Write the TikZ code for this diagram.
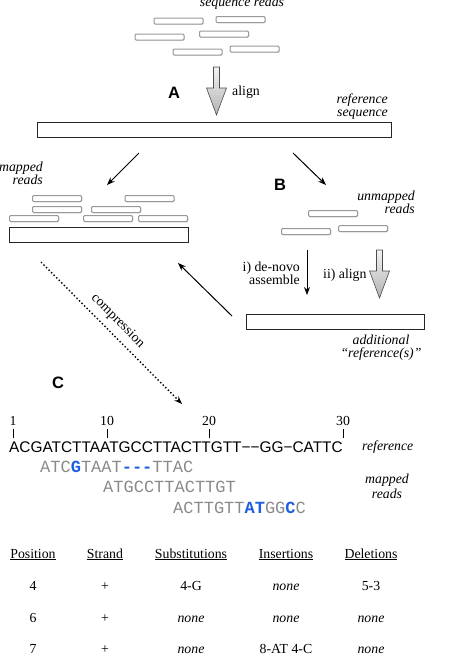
\documentclass[tikz,border=0pt]{standalone}
\usepackage{fontspec}
\setmainfont{Liberation Serif}
\setsansfont{Liberation Sans}
\setmonofont{Liberation Mono}
\usetikzlibrary{arrows.meta,shadows}

\definecolor{readgray}{RGB}{138,138,138}
\definecolor{snpblue}{RGB}{30,95,225}

\tikzset{
    readbox/.style={draw=gray!80, fill=white, rounded corners=1.2pt, line width=1pt,
        minimum width=49pt, minimum height=6pt, inner sep=0pt,
        drop shadow={opacity=0.25, shadow xshift=0.8pt, shadow yshift=-0.8pt}},
    seqbar/.style={draw=black!85, fill=white, line width=0.9pt, inner sep=0pt,
        minimum height=15pt,
        drop shadow={opacity=0.25, shadow xshift=0.8pt, shadow yshift=-0.8pt}},
    lbl/.style={font=\fontsize{13.8}{13}\selectfont\itshape, inner sep=0pt},
    txt/.style={font=\fontsize{13.8}{13}\selectfont, inner sep=0pt},
    panel/.style={font=\sffamily\bfseries\fontsize{16.5}{18}\selectfont, inner sep=0pt},
    flow/.style={-{Stealth[length=8pt,width=6pt]}, line width=1pt},
    fatarrow/.style={draw=black!70, line width=0.6pt, top color=gray!10, bottom color=gray!60},
    refseq/.style={font=\sffamily\fontsize{15.4}{16}\selectfont, inner sep=0pt},
    readseq/.style={font=\ttfamily\fontsize{17}{18}\selectfont, text=readgray, inner sep=0pt},
    bigarrow/.pic={
        \path[fatarrow] (-3,0) -- (3,0) -- (3,21) -- (10,21) -- (0,48)
            -- (-10,21) -- (-3,21) -- cycle;
    },
}

\begin{document}
\begin{tikzpicture}[x=1pt, y=-1pt]
    \useasboundingbox (0,0) rectangle (450,654);

    % Sequence reads
    \node[lbl, anchor=base] (seqlbl) at (242,6) {sequence reads};
    \foreach \x/\y [count=\i] in {178.5/21, 240.5/19.5, 159.5/37, 224/34, 197.5/52, 254.5/49}
        \node[readbox] (r\i) at (\x,\y) {};

    % Step A: align to reference
    \pic at (216.5,67) {bigarrow};
    \node[txt, anchor=base west] (alignA) at (232,95) {align};
    \node[panel] (A) at (174,93) {A};
    \node[lbl, align=right, anchor=base east] (reflbl) at (388,116) {reference\\sequence};
    \node[seqbar, minimum width=354pt] (ref) at (214,129.5) {};

    % Mapped reads
    \node[lbl, align=right, anchor=base east] (maplbl) at (43,184) {mapped\\reads};
    \foreach \x/\y [count=\i] in {57/198.5, 149.5/198.5, 57/209.5, 116/209.5, 34/218.5, 108/218.5, 163/218.5}
        \node[readbox] (m\i) at (\x,\y) {};
    \node[seqbar, minimum width=179pt] (mapped) at (98.5,234.5) {};

    % Step B: unmapped reads
    \node[panel] (B) at (280,185) {B};
    \node[lbl, align=right, anchor=base east] (unmaplbl) at (415,213) {unmapped\\reads};
    \foreach \x/\y [count=\i] in {333/213.5, 306/231.5, 363/228.5}
        \node[readbox] (u\i) at (\x,\y) {};

    % Split arrows
    \coordinate (refL) at (139,153);
    \coordinate (mapIn) at (107,185);
    \coordinate (refR) at (293,153);
    \coordinate (unmapIn) at (326,185);
    \draw[flow] (refL) -- (mapIn);
    \draw[flow] (refR) -- (unmapIn);

    % Additional reference(s)
    \coordinate (asmTop) at (307,250);
    \coordinate (asmEnd) at (307,295);
    \draw[flow] (asmTop) -- (asmEnd);
    \node[txt, align=right, anchor=base east] (asmlbl) at (300,284) {i) de-novo\\assemble};
    \pic at (379.5,250) {bigarrow};
    \node[txt, anchor=base west] (alignB) at (323,278) {ii) align};
    \node[seqbar, minimum width=178pt] (addl) at (335,321.5) {};
    \node[lbl, align=center, anchor=base] (addllbl) at (381,357) {additional\\``reference(s)''};

    % Back to mapped reads
    \coordinate (addlOut) at (232,316);
    \coordinate (mapBack) at (178,263);
    \draw[flow] (addlOut) -- (mapBack);

    % Step C: compression
    \coordinate (cmpS) at (41,262);
    \coordinate (cmpE) at (182,404);
    \draw[flow, line width=1.4pt, dash pattern=on 1.4pt off 2.2pt] (cmpS) -- node[txt, pos=0.48, sloped, above=6pt] (cmplbl) {compression} (cmpE);
    \node[panel] (C) at (58,383) {C};

    % Position ticks
    \foreach \x/\n in {13/1, 107/10, 209/20, 343/30} {
        \node[txt, anchor=base] (p\n) at (\x,425) {\n};
        \draw[line width=1pt] (\x,429) -- (\x,438);
    }

    % Reference and mapped reads
    \node[refseq, anchor=base west] (refseq) at (9,452)
        {ACGATCTTAATGCCTTACTTGTT−−GG−CATTC};
    \node[lbl, anchor=base west] (reftxt) at (362,450) {reference};
    \node[readseq, anchor=base west] (read1) at (40,472)
        {ATC{\bfseries\color{snpblue}G}TAAT{\bfseries\color{snpblue}---}TTAC};
    \node[readseq, anchor=base west] (read2) at (103,492) {ATGCCTTACTTGT};
    \node[readseq, anchor=base west] (read3) at (173,513)
        {ACTTGTT{\bfseries\color{snpblue}AT}GG{\bfseries\color{snpblue}C}C};
    \node[lbl, font=\fontsize{13.8}{15}\selectfont\itshape, align=center, anchor=base] (mappedtxt) at (387,498) {mapped\\reads};

    % Table
    \foreach \x/\t [count=\i] in {33/Position, 105/Strand, 191/Substitutions, 286/Insertions, 371/Deletions}
        \node[txt, anchor=base] (h\i) at (\x,558) {\underline{\t}};
    \foreach \y/\a/\b/\c/\d/\e [count=\j] in {590/4/+/4-G/\emph{none}/5-3,
            622/6/+/\emph{none}/\emph{none}/\emph{none},
            653/7/+/\emph{none}/8-AT 4-C/\emph{none}} {
        \node[txt, anchor=base] (c\j-1) at (33,\y) {\a};
        \node[txt, anchor=base] (c\j-2) at (105,\y) {\b};
        \node[txt, anchor=base] (c\j-3) at (191,\y) {\c};
        \node[txt, anchor=base] (c\j-4) at (286,\y) {\d};
        \node[txt, anchor=base] (c\j-5) at (371,\y) {\e};
    }
\end{tikzpicture}
\end{document}
